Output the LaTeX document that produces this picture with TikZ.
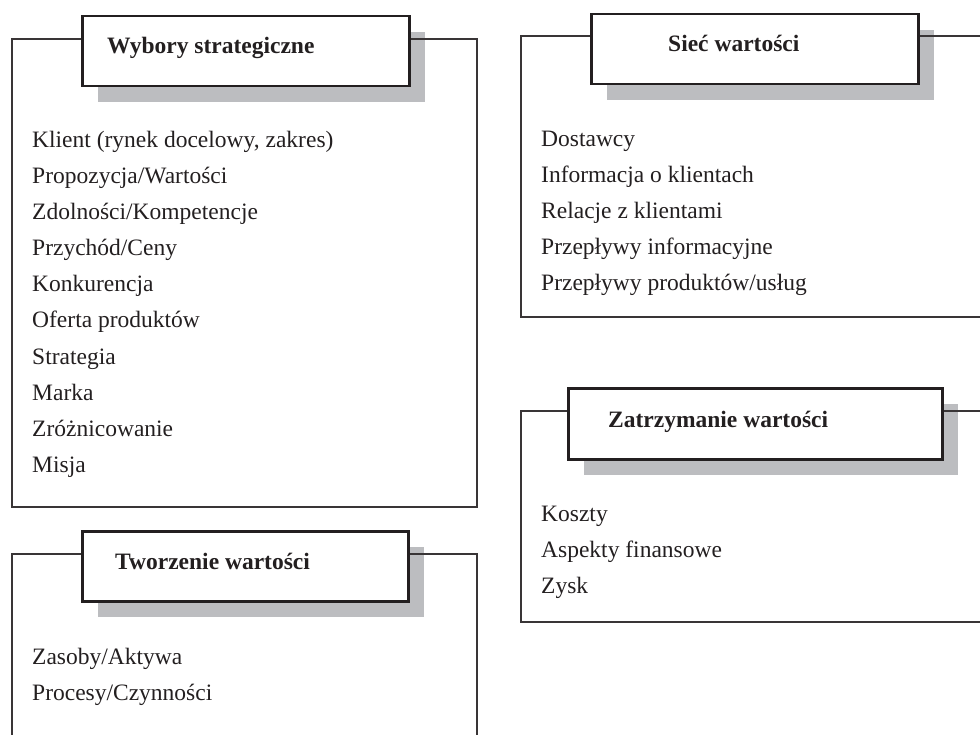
\documentclass[tikz,border=0pt]{standalone}
\usepackage{fontspec}
\setmainfont{Liberation Serif}
\usetikzlibrary{shadows}
\definecolor{ink}{HTML}{231F20}
\definecolor{shadowgray}{HTML}{BCBDC0}
\newcommand{\boxfont}{\fontsize{23.5}{28}\selectfont}
\tikzset{
  frame/.style={draw=ink!90, line width=2pt},
  header/.style={draw=ink, line width=2.5pt, fill=white, anchor=north west, inner sep=0pt,
    drop shadow={shadow xshift=16pt, shadow yshift=-16pt, fill=shadowgray, opacity=1}},
  title/.style={anchor=base west, inner sep=0pt, font=\boxfont\bfseries, text=ink},
  item/.style={anchor=base west, inner sep=0pt, font=\boxfont, text=ink}
}

\begin{document}
\begin{tikzpicture}[x=1pt, y=-1pt]
\useasboundingbox (0,0) rectangle (980,735);
% wybory strategiczne
\node[header, minimum width=327pt, minimum height=70pt] (hwyb) at (81,15) {};
\node[title] (twyb) at (107,54) {Wybory strategiczne};
\draw[frame] (hwyb.west |- 0,39) -- (12,39) -- (12,507) -- (477,507) -- (477,39) -- (hwyb.east |- 0,39);
\foreach \txt [count=\i] in {{Klient (rynek docelowy, zakres)}, Propozycja/Wartości,
    Zdolności/Kompetencje, Przychód/Ceny, Konkurencja, Oferta produktów,
    Strategia, Marka, Zróżnicowanie, Misja}
  \node[item] (wyb\i) at (32,{112+36*\i}) {\txt};
% tworzenie wartosci
\node[header, minimum width=326pt, minimum height=70pt] (htwo) at (81,530) {};
\node[title] (ttwo) at (115,569) {Tworzenie wartości};
\draw[frame] (htwo.west |- 0,554) -- (12,554) -- (12,737) (htwo.east |- 0,554) -- (477,554) -- (477,737);
\foreach \txt [count=\i] in {Zasoby/Aktywa, Procesy/Czynności}
  \node[item] (two\i) at (32,{628+36*\i}) {\txt};
% siec wartosci
\node[header, minimum width=327pt, minimum height=70pt] (hsiec) at (590,13) {};
\node[title] (tsiec) at (668,52) {Sieć wartości};
\draw[frame] (hsiec.west |- 0,36) -- (521,36) -- (521,317) -- (982,317) (hsiec.east |- 0,36) -- (982,36);
\foreach \txt [count=\i] in {Dostawcy, Informacja o klientach, Relacje z klientami,
    Przepływy informacyjne, Przepływy produktów/usług}
  \node[item] (siec\i) at (541,{111+36*\i}) {\txt};
% zatrzymanie wartosci
\node[header, minimum width=374pt, minimum height=71pt] (hzat) at (567,387) {};
\node[title] (tzat) at (608,427) {Zatrzymanie wartości};
\draw[frame] (hzat.west |- 0,411) -- (521,411) -- (521,622) -- (982,622) (hzat.east |- 0,411) -- (982,411);
\foreach \txt [count=\i] in {Koszty, Aspekty finansowe, Zysk}
  \node[item] (zat\i) at (541,{485+36*\i}) {\txt};
\end{tikzpicture}
\end{document}
